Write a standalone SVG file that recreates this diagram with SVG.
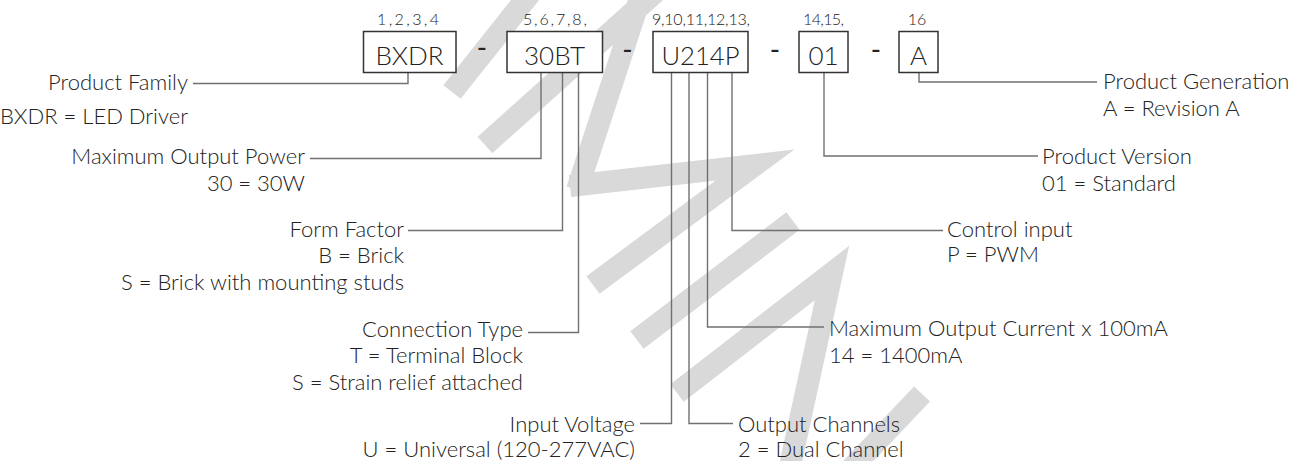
<svg xmlns="http://www.w3.org/2000/svg" width="1310" height="461" viewBox="0 0 1310 461">
<style>
.wm{fill:none;stroke:#d9d9da;stroke-width:22;stroke-linecap:butt}
.box{fill:#fff;stroke:#333;stroke-width:1.5}
.code{font-family:Lato,"Liberation Sans",sans-serif;font-weight:300;font-size:26px;fill:#222;text-anchor:middle}
.pos{font-family:Lato,"Liberation Sans",sans-serif;font-weight:300;font-size:16px;fill:#222;text-anchor:middle}
.dash{font-family:"Liberation Sans",sans-serif;font-size:28px;fill:#222;text-anchor:middle}
.lbl{font-family:Lato,"Liberation Sans",sans-serif;font-weight:300;font-size:22px;fill:#222}
.l{text-anchor:end}
.conn{fill:none;stroke:#707070;stroke-width:1.4}
</style>
<g id="watermark">
<line class="wm" x1="452" y1="92" x2="533" y2="-10"/>
<line class="wm" x1="485" y1="145" x2="660" y2="-12"/>
<line class="wm" x1="642" y1="-8" x2="577" y2="190"/>
<polyline class="wm" stroke-linejoin="miter" stroke-miterlimit="10" points="570,186 755,165 593,285"/>
<line class="wm" x1="793" y1="221" x2="637" y2="340"/>
<polyline class="wm" stroke-linejoin="miter" stroke-miterlimit="10" points="677,393 832,273 788,475"/>
<line class="wm" x1="922" y1="394" x2="845" y2="475"/>
</g>
<g id="connectors">
<path class="conn" d="M408,72 V83.5 H193"/>
<path class="conn" d="M541,72 V158.5 H310"/>
<path class="conn" d="M562.5,72 V230.5 H408"/>
<path class="conn" d="M578.5,72 V332.5 H528"/>
<path class="conn" d="M671.5,72 V423.5 H640"/>
<path class="conn" d="M689,72 V423.5 H733"/>
<path class="conn" d="M707.5,72 V327 H824"/>
<path class="conn" d="M732,72 V230.5 H943"/>
<path class="conn" d="M824,72 V156 H1038"/>
<path class="conn" d="M919,72 V82 H1097"/>
</g>
<g id="node-bxdr">
<text class="pos" x="408" y="25" textLength="62" lengthAdjust="spacing">1,2,3,4</text>
<rect class="box" x="363.5" y="31.5" width="92.5" height="41"/>
<text class="code" x="409.5" y="65">BXDR</text>
</g>
<text class="dash" x="482" y="56">-</text>
<g id="node-30bt">
<text class="pos" x="555" y="25" textLength="64" lengthAdjust="spacing">5,6,7,8,</text>
<rect class="box" x="507" y="31.5" width="95.5" height="41"/>
<text class="code" x="554.5" y="65">30BT</text>
</g>
<text class="dash" x="627.5" y="58">-</text>
<g id="node-u214p">
<text class="pos" x="701" y="25" textLength="98" lengthAdjust="spacing">9,10,11,12,13,</text>
<rect class="box" x="653" y="31.5" width="95" height="41"/>
<text class="code" x="700.5" y="65" textLength="78" lengthAdjust="spacingAndGlyphs">U214P</text>
</g>
<text class="dash" x="775" y="58">-</text>
<g id="node-01">
<text class="pos" x="823.5" y="25" textLength="41" lengthAdjust="spacing">14,15,</text>
<rect class="box" x="799" y="31.5" width="49" height="41"/>
<text class="code" x="823.5" y="65">01</text>
</g>
<text class="dash" x="876" y="58">-</text>
<g id="node-a">
<text class="pos" x="917" y="25">16</text>
<rect class="box" x="899" y="31.5" width="39" height="41"/>
<text class="code" x="918.5" y="65">A</text>
</g>
<g id="label-family">
<text class="lbl l" x="188" y="90">Product Family</text>
<text class="lbl l" x="188" y="124">BXDR = LED Driver</text>
</g>
<g id="label-power">
<text class="lbl l" x="305" y="164">Maximum Output Power</text>
<text class="lbl l" x="305" y="191">30 = 30W</text>
</g>
<g id="label-form">
<text class="lbl l" x="404" y="237">Form Factor</text>
<text class="lbl l" x="404" y="263">B = Brick</text>
<text class="lbl l" x="404" y="290">S = Brick with mounting studs</text>
</g>
<g id="label-connection">
<text class="lbl l" x="523" y="337">Connection Type</text>
<text class="lbl l" x="523" y="363">T = Terminal Block</text>
<text class="lbl l" x="523" y="390">S = Strain relief attached</text>
</g>
<g id="label-input">
<text class="lbl l" x="635" y="432">Input Voltage</text>
<text class="lbl l" x="635" y="457">U = Universal (120-277VAC)</text>
</g>
<g id="label-channels">
<text class="lbl" x="738" y="432">Output Channels</text>
<text class="lbl" x="738" y="457">2 = Dual Channel</text>
</g>
<g id="label-current">
<text class="lbl" x="829" y="336">Maximum Output Current x 100mA</text>
<text class="lbl" x="829" y="363">14 = 1400mA</text>
</g>
<g id="label-control">
<text class="lbl" x="947" y="237">Control input</text>
<text class="lbl" x="947" y="262">P = PWM</text>
</g>
<g id="label-version">
<text class="lbl" x="1042" y="164">Product Version</text>
<text class="lbl" x="1042" y="191">01 = Standard</text>
</g>
<g id="label-generation">
<text class="lbl" x="1103" y="89">Product Generation</text>
<text class="lbl" x="1103" y="116">A = Revision A</text>
</g>
</svg>
